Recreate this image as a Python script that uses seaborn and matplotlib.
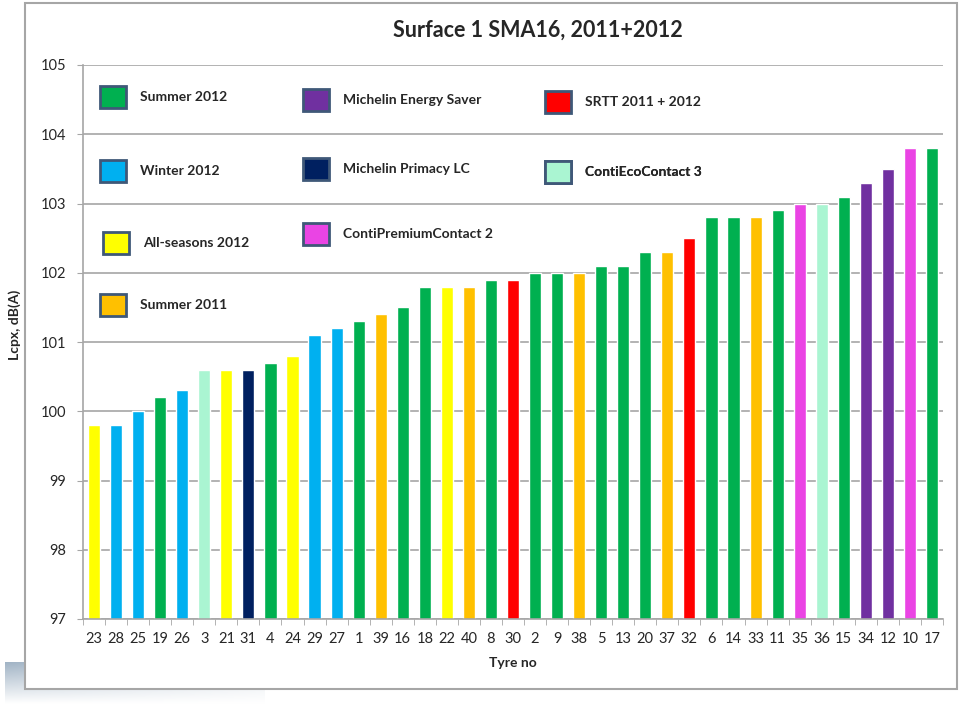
import numpy as np
import pandas as pd
import matplotlib
matplotlib.use('Agg')
import matplotlib.pyplot as plt
from matplotlib.patches import Patch, Rectangle
import seaborn as sns

# data
tyre_no = ['23', '28', '25', '19', '26', '3', '21', '31', '4', '24', '29', '27', '1', '39',
           '16', '18', '22', '40', '8', '30', '2', '9', '38', '5', '13', '20', '37', '32',
           '6', '14', '33', '11', '35', '36', '15', '34', '12', '10', '17']
lcpx = [99.8, 99.8, 100.0, 100.2, 100.3, 100.6, 100.6, 100.6, 100.7, 100.8, 101.1, 101.2,
        101.3, 101.4, 101.5, 101.8, 101.8, 101.8, 101.9, 101.9, 102.0, 102.0, 102.0, 102.1,
        102.1, 102.3, 102.3, 102.5, 102.8, 102.8, 102.8, 102.9, 103.0, 103.0, 103.1, 103.3,
        103.5, 103.8, 103.8]
group = ['All-seasons 2012', 'Winter 2012', 'Winter 2012', 'Summer 2012', 'Winter 2012',
         'ContiEcoContact 3', 'All-seasons 2012', 'Michelin Primacy LC', 'Summer 2012',
         'All-seasons 2012', 'Winter 2012', 'Winter 2012', 'Summer 2012', 'Summer 2011',
         'Summer 2012', 'Summer 2012', 'All-seasons 2012', 'Summer 2011', 'Summer 2012',
         'SRTT 2011 + 2012', 'Summer 2012', 'Summer 2012', 'Summer 2011', 'Summer 2012',
         'Summer 2012', 'Summer 2012', 'Summer 2011', 'SRTT 2011 + 2012', 'Summer 2012',
         'Summer 2012', 'Summer 2011', 'Summer 2012', 'ContiPremiumContact 2',
         'ContiEcoContact 3', 'Summer 2012', 'Michelin Energy Saver', 'Michelin Energy Saver',
         'ContiPremiumContact 2', 'Summer 2012']

colours = {
    'Summer 2012': '#00b050',
    'Winter 2012': '#00b0f0',
    'All-seasons 2012': '#ffff00',
    'Summer 2011': '#ffc000',
    'Michelin Energy Saver': '#7030a0',
    'Michelin Primacy LC': '#002060',
    'ContiPremiumContact 2': '#ea44e4',
    'SRTT 2011 + 2012': '#ff0000',
    'ContiEcoContact 3': '#aaf5d2',
}
legend_order = ['Summer 2012', 'Winter 2012', 'All-seasons 2012', 'Summer 2011',
                'Michelin Energy Saver', 'Michelin Primacy LC', 'ContiPremiumContact 2',
                'SRTT 2011 + 2012', 'ContiEcoContact 3']

df = pd.DataFrame({'Tyre no': tyre_no, 'Lcpx': lcpx, 'group': group})

sns.set_style('white')
plt.rcParams['font.family'] = ['Lato', 'DejaVu Sans']

fig = plt.figure(figsize=(9.6, 7.04), dpi=100)

# grey shadow strip bottom left
sh = fig.add_axes([0.005, 0.0, 0.27, 0.06], zorder=0)
grad = np.linspace(1, 0, 50).reshape(-1, 1) * np.linspace(1, 0.3, 200).reshape(1, -1)
sh.imshow(grad, aspect='auto', cmap=matplotlib.colors.LinearSegmentedColormap.from_list(
    'g', ['#ffffff', '#9fb2c4']), vmin=0, vmax=1)
sh.axis('off')

# frame
fig.patches.append(Rectangle((25 / 960, 1 - 689 / 704), (957 - 25) / 960, (689 - 3) / 704,
                             transform=fig.transFigure, facecolor='white',
                             edgecolor='#a6a6a6', lw=1.5, zorder=1))

ax = fig.add_axes([83 / 960, 1 - 619 / 704, (943 - 83) / 960, (619 - 65) / 704], zorder=2)
ax.patch.set_alpha(0)
sns.barplot(data=df, x='Tyre no', y='Lcpx', hue='group', palette=colours, dodge=False,
            width=0.55, legend=False, ax=ax, order=tyre_no, saturation=1)

ax.set_ylim(97, 105)
ax.set_yticks(range(97, 106))
ax.yaxis.grid(True, color='#a6a6a6', lw=1.2)
ax.set_axisbelow(True)
ax.set_xlim(-0.5, len(tyre_no) - 0.5)
for s in ['top', 'right']:
    ax.spines[s].set_visible(False)
for s in ['left', 'bottom']:
    ax.spines[s].set_color('#a6a6a6')
    ax.spines[s].set_linewidth(1.2)
ax.tick_params(axis='y', left=True, length=4, color='#a6a6a6', labelsize=10.5, pad=8)
ax.tick_params(axis='x', bottom=False, labelsize=10.5, pad=6)
ax.set_xticks(np.arange(-0.5, len(tyre_no)), minor=True)
ax.tick_params(axis='x', which='minor', bottom=True, length=4, color='#a6a6a6')
ax.set_xlabel('Tyre no', fontweight='bold', fontsize=10, labelpad=8)
ax.set_ylabel('')

fig.text(15 / 960, 1 - 325 / 704, 'Lcpx, dB(A)', rotation=90, fontweight='bold', fontsize=10,
         ha='center', va='center')
fig.text(538 / 960, 1 - 30 / 704, 'Surface 1 SMA16, 2011+2012', fontweight='bold', fontsize=15.5,
         ha='center', va='center')

# legend entries scattered like the original (handle left x, centre y in pixels)
legend_xy = [(100, 97), (100, 171), (103, 243), (100, 305),
             (303, 100), (303, 169), (303, 234), (545, 102), (545, 172)]
for name, (px, py) in zip(legend_order, legend_xy):
    h = Patch(facecolor=colours[name], edgecolor='#3f5878', lw=2)
    leg = ax.legend([h], [name], loc='center left', frameon=False,
                    bbox_to_anchor=(px / 960, 1 - py / 704), bbox_transform=fig.transFigure,
                    prop={'weight': 'bold', 'size': 10}, handlelength=1.9, handleheight=2.0,
                    handletextpad=1.0, borderaxespad=0, borderpad=0)
    ax.add_artist(leg)

fig.savefig('out.png', dpi=100)
